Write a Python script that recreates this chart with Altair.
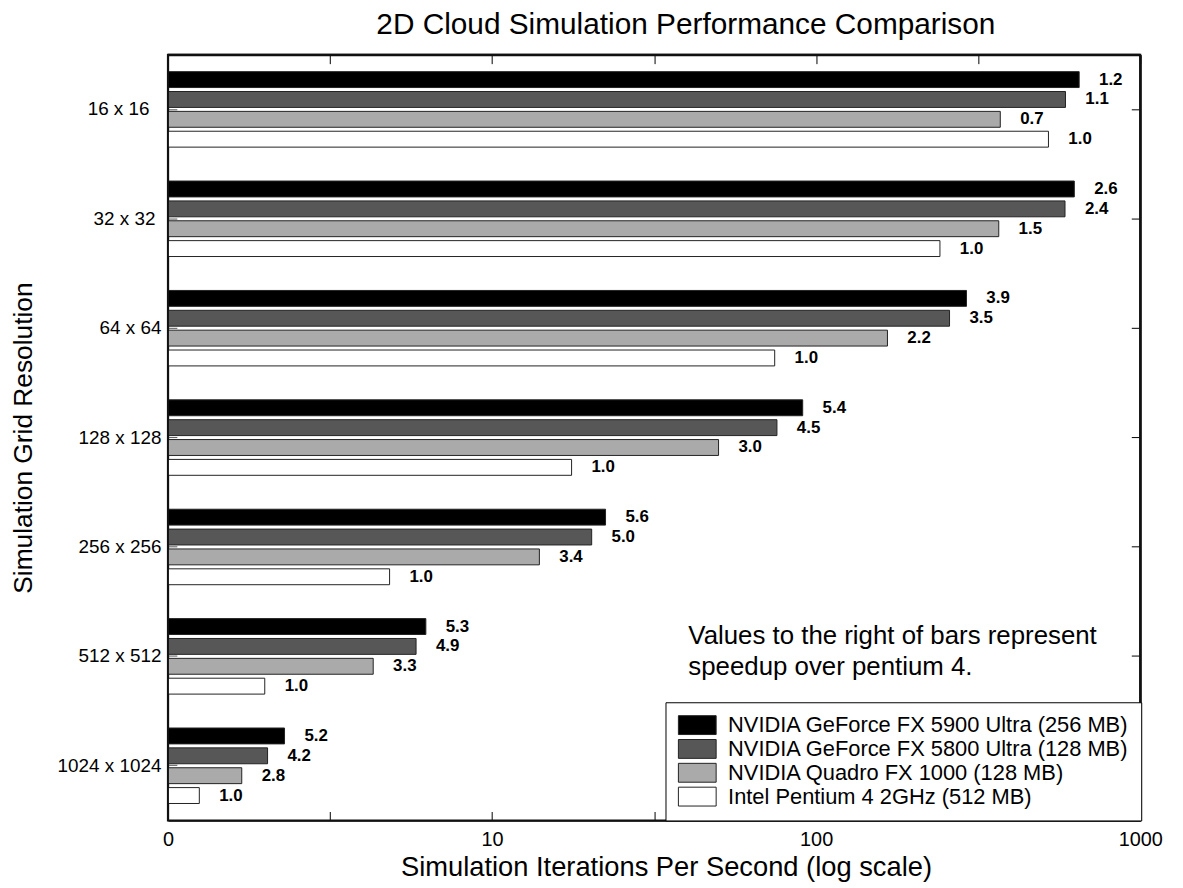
import altair as alt
import pandas as pd

# ---- data ----
categories = ["16 x 16", "32 x 32", "64 x 64", "128 x 128", "256 x 256", "512 x 512", "1024 x 1024"]
series = [
    "NVIDIA GeForce FX 5900 Ultra (256 MB)",
    "NVIDIA GeForce FX 5800 Ultra (128 MB)",
    "NVIDIA Quadro FX 1000 (128 MB)",
    "Intel Pentium 4 2GHz (512 MB)",
]
# simulation iterations per second
fx5900 = [647, 625, 290, 89.9, 21.4, 5.25, 1.29]
fx5800 = [587, 585, 257, 74.7, 19.3, 4.83, 1.03]
quadro = [369, 365, 165, 49.0, 13.0, 3.30, 0.69]
pentium = [520, 240, 73.5, 16.6, 3.83, 0.99, 0.25]
# speedup labels printed to the right of bars
speedup_fx5900 = ["1.2", "2.6", "3.9", "5.4", "5.6", "5.3", "5.2"]
speedup_fx5800 = ["1.1", "2.4", "3.5", "4.5", "5.0", "4.9", "4.2"]
speedup_quadro = ["0.7", "1.5", "2.2", "3.0", "3.4", "3.3", "2.8"]
speedup_pentium = ["1.0", "1.0", "1.0", "1.0", "1.0", "1.0", "1.0"]

colors = ["#000000", "#575757", "#aaaaaa", "#ffffff"]
x_major_ticks = [0, 9, 99, 999]
x_major_labels = ["0", "10", "100", "1000"]
x_minor_ticks = [0, 2.1623, 9, 30.623, 99, 315.23, 999]
note_lines = ["Values to the right of bars represent", "speedup over pentium 4."]

# ---- table ----
values = [fx5900, fx5800, quadro, pentium]
speedups = [speedup_fx5900, speedup_fx5800, speedup_quadro, speedup_pentium]
rows = []
for s, vals, sps in zip(series, values, speedups):
    for c, v, sp in zip(categories, vals, sps):
        rows.append({"resolution": c, "device": s, "ips": v, "speedup": sp})
df = pd.DataFrame(rows)

FONT = "Liberation Sans"
W, H = 979, 771

x_label_expr = "''"
for v, l in zip(reversed(x_major_ticks), reversed(x_major_labels)):
    x_label_expr = f"datum.value == {v} ? '{l}' : ({x_label_expr})"

# the first two category labels sit a little further from the axis in the original
y_label_padding = {
    "condition": [
        {"test": "datum.label == '16 x 16'", "value": 19},
        {"test": "datum.label == '32 x 32'", "value": 13},
    ],
    "value": 7,
}

xscale = alt.Scale(type="symlog", constant=1, domain=[0, 999], nice=False)
yscale = alt.Scale(paddingInner=0.31, paddingOuter=0.155)
offscale = alt.Scale(paddingInner=0.2)

base = alt.Chart(df)

bars = base.mark_bar(stroke="#222222", strokeWidth=1).encode(
    x=alt.X("ips:Q", scale=xscale,
            axis=alt.Axis(orient="bottom", values=x_major_ticks, labelExpr=x_label_expr,
                          labelFlush=False, ticks=False, domain=True, domainColor="#111111",
                          domainWidth=1.5, grid=False, labelFontSize=20, labelPadding=9,
                          labelFont=FONT,
                          title="Simulation Iterations Per Second (log scale)",
                          titleFontSize=27.5, titleFont=FONT, titleFontWeight="normal",
                          titlePadding=4, titleX=W / 2 + 12)),
    y=alt.Y("resolution:N", sort=categories, scale=yscale,
            axis=alt.Axis(orient="left", ticks=False, domain=True, domainColor="#111111",
                          domainWidth=1.5, grid=False,
                          labelFontSize=19, labelPadding=y_label_padding, labelFont=FONT,
                          title="Simulation Grid Resolution", titleFontSize=26.5,
                          titleFont=FONT, titleFontWeight="normal", titlePadding=20)),
    yOffset=alt.YOffset("device:N", sort=series, scale=offscale),
    color=alt.Color("device:N", sort=series, scale=alt.Scale(domain=series, range=colors),
                    legend=alt.Legend(title=None, orient="none", legendX=501, legendY=652,
                                      direction="vertical",
                                      symbolType="M-2,-1H2V1H-2Z", symbolSize=361,
                                      symbolOffset=9, symbolStrokeColor="#222222",
                                      symbolStrokeWidth=1, symbolOpacity=1,
                                      labelFontSize=22, labelFont=FONT, labelColor="black",
                                      labelLimit=0, labelOffset=20,
                                      padding=12, rowPadding=0,
                                      strokeColor="black", fillColor="white")),
)

labels = base.mark_text(align="left", baseline="middle", dx=20, fontSize=17,
                        fontWeight="bold", font=FONT, color="black").encode(
    x=alt.X("ips:Q", scale=xscale,
            axis=alt.Axis(orient="top", offset=-H, values=x_minor_ticks, labels=False,
                          tickSize=9, tickColor="black", domain=False, grid=False, title=None)),
    y=alt.Y("resolution:N", sort=categories,
            axis=alt.Axis(orient="right", offset=-W, labels=False, tickSize=9,
                          tickColor="#555555", domain=False, grid=False, title=None)),
    yOffset=alt.YOffset("device:N", sort=series),
    text="speedup:N",
)

frame_helper = base.mark_point(opacity=0).encode(
    x=alt.X("ips:Q", scale=xscale,
            axis=alt.Axis(orient="bottom", offset=-H, values=x_minor_ticks, labels=False,
                          tickSize=9, tickColor="black", domain=True, domainColor="#111111",
                          domainWidth=2, grid=False, title=None)),
    y=alt.Y("resolution:N", sort=categories,
            axis=alt.Axis(orient="left", offset=-W, labels=False, tickSize=9,
                          tickColor="black", domain=True, domainColor="#111111",
                          domainWidth=2, grid=False, title=None)),
)

one_row = pd.DataFrame({"k": [0]})

frame = alt.Chart(one_row).mark_rect(filled=False, stroke="#111111", strokeWidth=2).encode(
    x=alt.value(0), x2=alt.value(W), y=alt.value(0), y2=alt.value(H)
)
top_edge = alt.Chart(one_row).mark_rule(color="#111111", strokeWidth=2).encode(
    x=alt.value(0), x2=alt.value(W), y=alt.value(0)
)
right_edge = alt.Chart(one_row).mark_rule(color="#111111", strokeWidth=2).encode(
    x=alt.value(W), y=alt.value(0), y2=alt.value(H)
)

note = alt.Chart(one_row).mark_text(
    align="left", baseline="top", fontSize=26, font=FONT, color="black", lineHeight=32
).encode(x=alt.value(524), y=alt.value(572), text=alt.value(note_lines))

chart = alt.layer(bars, labels, frame_helper, frame, top_edge, right_edge, note).resolve_axis(
    x="independent", y="independent"
).properties(
    width=W, height=H,
    autosize=alt.AutoSizeParams(type="none"),
    padding={"left": 161, "top": 44, "right": 35, "bottom": 65},
    title=alt.TitleParams("2D Cloud Simulation Performance Comparison", fontSize=30,
                          font=FONT, fontWeight="normal", anchor="middle", offset=14,
                          dx=32, color="black"),
).configure_view(stroke="#111111", strokeWidth=1.5).configure(background="white").configure_axis(
    labelColor="black", titleColor="black"
)

chart.save("out.html", embed_options={"renderer": "svg", "actions": False})
